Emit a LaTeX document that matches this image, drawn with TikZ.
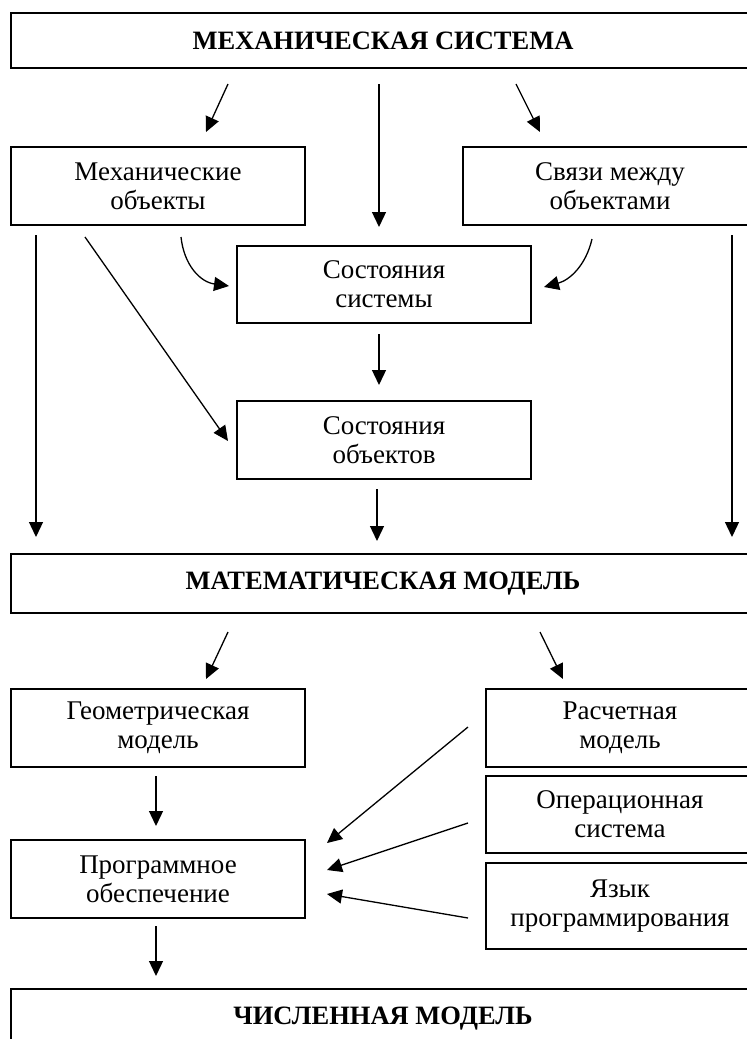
\documentclass[tikz,border=0pt]{standalone}
\usepackage{fontspec}
\setmainfont{Liberation Serif}
\usetikzlibrary{arrows.meta}
\begin{document}
\begin{tikzpicture}[x=1pt,y=-1pt,
  box/.style={draw, line width=1.6pt, align=center, inner sep=0pt,
    font=\fontsize{27}{29}\selectfont},
  headbox/.style={box, font=\fontsize{26.5}{29}\selectfont\bfseries},
  arr/.style={line width=1.3pt, -{Triangle[length=15pt,width=14pt]}}]
\useasboundingbox (0,0) rectangle (747,1039);
\clip (0,0) rectangle (747,1039);
% boxes
\node[headbox, minimum width=744pt, minimum height=55pt] (ms) at (383,40.5) {МЕХАНИЧЕСКАЯ СИСТЕМА};
\node[box, minimum width=294pt, minimum height=78pt] (mo) at (158,186) {Механические\\объекты};
\node[box, minimum width=294pt, minimum height=78pt] (sv) at (610,186) {Связи между\\объектами};
\node[box, minimum width=294pt, minimum height=77pt] (ss) at (384,284.5) {Состояния\\системы};
\node[box, minimum width=294pt, minimum height=78pt] (so) at (384,440) {Состояния\\объектов};
\node[headbox, minimum width=744pt, minimum height=59pt] (mm) at (383,583.5) {МАТЕМАТИЧЕСКАЯ МОДЕЛЬ};
\node[box, minimum width=294pt, minimum height=78pt] (gm) at (158,728) {Геометрическая\\модель};
\node[box, minimum width=268pt, minimum height=78pt] (rm) at (620,728) {Расчетная\\модель};
\node[box, minimum width=268pt, minimum height=77pt] (os) at (620,814.5) {Операционная\\система};
\node[box, minimum width=268pt, minimum height=86pt] (yp) at (620,906) {Язык\\программирования};
\node[box, minimum width=294pt, minimum height=78pt] (po) at (158,879) {Программное\\обеспечение};
\node[headbox, minimum width=744pt, minimum height=59pt] (cm) at (383,1018.5) {ЧИСЛЕННАЯ МОДЕЛЬ};
% connector end points
\coordinate (a1s) at (228,84);  \coordinate (a1e) at (206,132);
\coordinate (a2s) at (379,84);  \coordinate (a2e) at (379,227);
\coordinate (a3s) at (516,84);  \coordinate (a3e) at (540,132);
\coordinate (l1s) at (36,235);  \coordinate (l1e) at (36,537);
\coordinate (r1s) at (732,235); \coordinate (r1e) at (732,537);
\coordinate (dgs) at (85,237);  \coordinate (dge) at (228,441);
\coordinate (c1s) at (181,237); \coordinate (c1e) at (229,286);
\coordinate (c2s) at (592,239); \coordinate (c2e) at (544,287);
\coordinate (s1s) at (379,334); \coordinate (s1e) at (379,385);
\coordinate (s2s) at (377,489); \coordinate (s2e) at (377,541);
\coordinate (m1s) at (228,632); \coordinate (m1e) at (206,679);
\coordinate (m2s) at (540,632); \coordinate (m2e) at (563,679);
\coordinate (g1s) at (156,776); \coordinate (g1e) at (156,826);
\coordinate (p1s) at (156,926); \coordinate (p1e) at (156,976);
\coordinate (q1s) at (468,727); \coordinate (q1e) at (327,843);
\coordinate (q2s) at (468,823); \coordinate (q2e) at (327,870);
\coordinate (q3s) at (468,918); \coordinate (q3e) at (327,894);
% connectors
\draw[arr] (a1s) -- (a1e);
\draw[arr] (a2s) -- (a2e);
\draw[arr] (a3s) -- (a3e);
\draw[arr] (l1s) -- (l1e);
\draw[arr] (r1s) -- (r1e);
\draw[arr] (dgs) -- (dge);
\draw[arr] (c1s) .. controls (184,265) and (200,282) .. (c1e);
\draw[arr] (c2s) .. controls (586,265) and (570,280) .. (c2e);
\draw[arr] (s1s) -- (s1e);
\draw[arr] (s2s) -- (s2e);
\draw[arr] (m1s) -- (m1e);
\draw[arr] (m2s) -- (m2e);
\draw[arr] (g1s) -- (g1e);
\draw[arr] (p1s) -- (p1e);
\draw[arr] (q1s) -- (q1e);
\draw[arr] (q2s) -- (q2e);
\draw[arr] (q3s) -- (q3e);
\end{tikzpicture}
\end{document}
